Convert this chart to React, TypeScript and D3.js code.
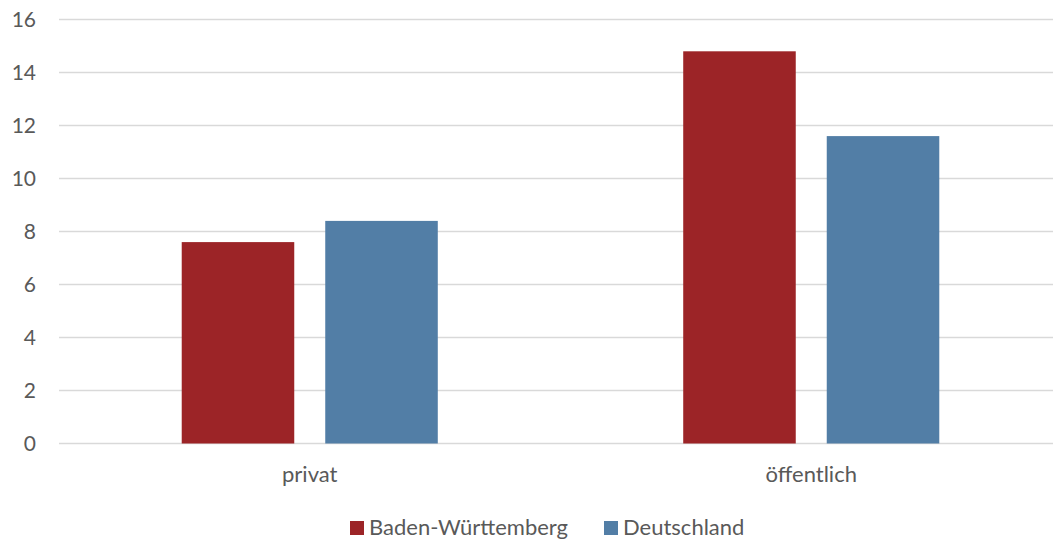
import React from "react";
import * as d3 from "d3";

const categories = ["privat", "öffentlich"];
const seriesNames = ["Baden-Württemberg", "Deutschland"];
const seriesColors = ["#9C2427", "#527EA6"];
const bwValues = [7.6, 14.8];
const deValues = [8.4, 11.6];
const yTicks = [0, 2, 4, 6, 8, 10, 12, 14, 16];

const W = 1053;
const H = 540;
const FONT = "Lato, 'Open Sans', sans-serif";

export default function App() {
  const y = d3.scaleLinear().domain([0, 16]).range([443.5, 19.5]);
  const x0 = d3.scaleBand<string>().domain(categories).range([59, 1062]).paddingInner(0).paddingOuter(0);
  const x1 = d3.scaleBand<string>().domain(seriesNames).range([0, x0.bandwidth()]).paddingInner(0.216).paddingOuter(0.855);
  const series = [bwValues, deValues];

  return (
    <svg width={W} height={H} style={{ position: "absolute", left: 0, top: 0, background: "#fff" }}>
      {yTicks.map((t) => (
        <g key={t}>
          <line x1={59} x2={W} y1={y(t)} y2={y(t)} stroke="#D9D9D9" strokeWidth={1.5} />
          <text x={36} y={y(t)} dy="0.36em" textAnchor="end" fontFamily={FONT} fontSize={21} fill="#595959">
            {t}
          </text>
        </g>
      ))}
      {categories.map((c, ci) => (
        <g key={c}>
          {seriesNames.map((s, si) => {
            const v = series[si][ci];
            return (
              <rect
                key={s}
                x={(x0(c) ?? 0) + (x1(s) ?? 0)}
                y={y(v)}
                width={x1.bandwidth()}
                height={y(0) - y(v)}
                fill={seriesColors[si]}
              />
            );
          })}
          <text x={(x0(c) ?? 0) + x0.bandwidth() / 2} y={482} textAnchor="middle" fontFamily={FONT} fontSize={22} fill="#595959">
            {c}
          </text>
        </g>
      ))}
      <g>
        <rect x={350} y={521} width={14} height={14} fill={seriesColors[0]} />
        <text x={369} y={535} fontFamily={FONT} fontSize={22} fill="#595959">{seriesNames[0]}</text>
        <rect x={604} y={521} width={14} height={14} fill={seriesColors[1]} />
        <text x={623} y={535} fontFamily={FONT} fontSize={22} fill="#595959">{seriesNames[1]}</text>
      </g>
    </svg>
  );
}
